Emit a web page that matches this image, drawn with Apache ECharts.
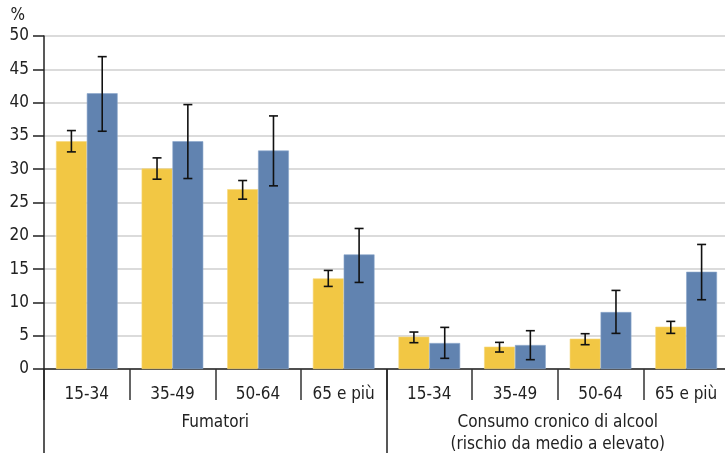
<!DOCTYPE html>
<html>
<head>
<meta charset="utf-8">
<script src="https://cdn.jsdelivr.net/npm/echarts@6/dist/echarts.min.js"></script>
<style>
  html, body { margin: 0; padding: 0; background: #fff; overflow: hidden; width: 725px; height: 453px; }
  #chart { position: absolute; left: 0; top: 0; width: 725px; height: 453px; overflow: hidden; }
</style>
</head>
<body>
<div id="chart"></div>
<script>
// Age bands, repeated for each of the two indicators
const ageBands = ['15-34', '35-49', '50-64', '65 e più', '15-34', '35-49', '50-64', '65 e più'];
const groups = ['Fumatori', 'Consumo cronico di alcool\n(rischio da medio a elevato)'];
const yTicks = [0, 5, 10, 15, 20, 25, 30, 35, 40, 45, 50];

// Yellow series: estimate, lower and upper confidence limits
const yellowValues = [34.2, 30.1, 27.0, 13.6, 4.85, 3.35, 4.55, 6.35];
const yellowLow    = [32.6, 28.5, 25.5, 12.4, 3.95, 2.55, 3.65, 5.35];
const yellowHigh   = [35.8, 31.7, 28.3, 14.8, 5.55, 4.0, 5.3, 7.15];

// Blue series: estimate, lower and upper confidence limits
const blueValues = [41.4, 34.2, 32.8, 17.2, 3.9, 3.6, 8.55, 14.6];
const blueLow    = [35.7, 28.6, 27.5, 13.0, 1.6, 1.4, 5.35, 10.4];
const blueHigh   = [46.9, 39.7, 38.0, 21.1, 6.25, 5.75, 11.8, 18.7];

const YELLOW = '#F2C744';
const BLUE = '#6183B0';
const FONT = '"Liberation Sans Narrow", "DejaVu Sans Condensed", sans-serif';
const CAT_GAP = 0.28;

function errorBars(side) {
  return function (params, api) {
    const idx = api.value(0);
    const lo = api.coord([idx, api.value(1)]);
    const hi = api.coord([idx, api.value(2)]);
    const band = api.size([1, 0])[0];
    const barW = band * (1 - CAT_GAP) / 2;
    const cx = lo[0] + side * barW / 2;
    const cap = 4.5;
    const style = { stroke: '#111', lineWidth: 1.6 };
    return {
      type: 'group',
      children: [
        { type: 'line', shape: { x1: cx, y1: lo[1], x2: cx, y2: hi[1] }, style },
        { type: 'line', shape: { x1: cx - cap, y1: hi[1], x2: cx + cap, y2: hi[1] }, style },
        { type: 'line', shape: { x1: cx - cap, y1: lo[1], x2: cx + cap, y2: lo[1] }, style }
      ]
    };
  };
}

const chart = echarts.init(document.getElementById('chart'), null, { renderer: 'canvas', width: 725, height: 453 });
chart.setOption({
  animation: false,
  backgroundColor: '#fff',
  textStyle: { fontFamily: FONT },
  grid: { left: 44, top: 36, width: 685, bottom: 84, containLabel: false, outerBoundsMode: 'none' },
  xAxis: [
    {
      type: 'category',
      data: ageBands,
      position: 'bottom',
      axisLine: { show: true, lineStyle: { color: '#222', width: 1.5 } },
      axisTick: { show: true, length: 31, lineStyle: { color: '#333', width: 1.5 } },
      axisLabel: { color: '#222', fontSize: 17, fontFamily: FONT, margin: 15, lineHeight: 22, interval: 0 },
      splitLine: { show: false }
    },
    {
      type: 'category',
      data: groups,
      position: 'bottom',
      axisLine: { show: false },
      axisTick: { show: true, length: 90, lineStyle: { color: '#222', width: 1.5 } },
      axisLabel: { color: '#222', fontSize: 17, fontFamily: FONT, margin: 43, lineHeight: 22, interval: 0 },
      splitLine: { show: false }
    }
  ],
  yAxis: {
    type: 'value',
    min: yTicks[0],
    max: yTicks[yTicks.length - 1],
    interval: 5,
    name: '%',
    nameLocation: 'end',
    nameGap: 12,
    nameTextStyle: { color: '#222', fontSize: 17, fontFamily: FONT, align: 'right', padding: [0, 19, 0, 0] },
    axisLine: { show: true, lineStyle: { color: '#222', width: 1.5 } },
    axisTick: { show: true, length: 11, lineStyle: { color: '#222', width: 1.5 } },
    axisLabel: { color: '#222', fontSize: 17, fontFamily: FONT, margin: 15 },
    splitLine: { show: true, lineStyle: { color: '#cfcfcf', width: 1.5 } }
  },
  series: [
    {
      name: 'yellow',
      type: 'bar',
      data: yellowValues,
      barGap: '0%',
      barCategoryGap: (CAT_GAP * 100) + '%',
      itemStyle: { color: YELLOW, borderColor: '#f6d77a', borderWidth: 0.6 },
      z: 2
    },
    {
      name: 'blue',
      type: 'bar',
      data: blueValues,
      barGap: '0%',
      barCategoryGap: (CAT_GAP * 100) + '%',
      itemStyle: { color: BLUE, borderColor: '#8aa6cb', borderWidth: 0.6 },
      z: 2
    },
    {
      type: 'custom',
      renderItem: errorBars(-1),
      data: yellowValues.map((v, i) => [i, yellowLow[i], yellowHigh[i]]),
      encode: { x: 0, y: [1, 2] },
      z: 5
    },
    {
      type: 'custom',
      renderItem: errorBars(1),
      data: blueValues.map((v, i) => [i, blueLow[i], blueHigh[i]]),
      encode: { x: 0, y: [1, 2] },
      z: 5
    }
  ]
});
</script>
</body>
</html>
